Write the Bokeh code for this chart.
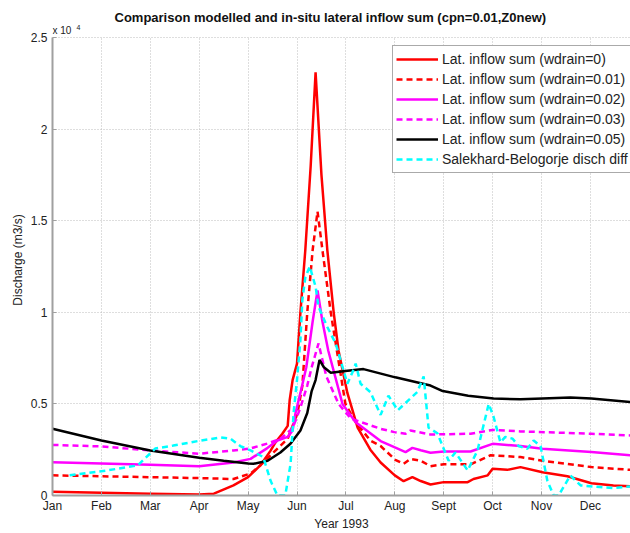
from bokeh.plotting import figure
from bokeh.models import (Range1d, FixedTicker, CustomJSTickFormatter, Label, Legend, LegendItem)
from bokeh.embed import file_html
from bokeh.resources import INLINE

# ---- data (x in months since 1 Jan 1993, values in 10^4 m3/s) ----
month_labels = ["Jan", "Feb", "Mar", "Apr", "May", "Jun", "Jul", "Aug", "Sept", "Oct", "Nov", "Dec"]
y_ticks = [0, 0.5, 1, 1.5, 2, 2.5]

w0_x = [0, 1, 2, 3, 3.3, 3.7, 4.0, 4.25, 4.46, 4.56, 4.7, 4.81, 4.85, 4.91, 5.0, 5.07, 5.17, 5.28, 5.38,
        5.5, 5.62, 5.75, 5.85, 6.03, 6.24, 6.5, 6.71, 7.0, 7.18, 7.36, 7.53, 7.73, 8.0, 8.49, 8.61, 8.9,
        9.0, 9.3, 9.57, 10.02, 10.53, 11.02, 11.47, 11.82]
w0_y = [0.02, 0.015, 0.01, 0.005, 0.01, 0.055, 0.10, 0.164, 0.245, 0.29, 0.337, 0.38, 0.52, 0.63, 0.72, 1.0,
        1.34, 1.8, 2.31, 1.75, 1.34, 1.0, 0.79, 0.56, 0.37, 0.25, 0.18, 0.11, 0.078, 0.10, 0.079, 0.06,
        0.073, 0.073, 0.09, 0.11, 0.146, 0.14, 0.155, 0.127, 0.105, 0.067, 0.055, 0.05]

w1_x = [0, 1, 2, 3, 3.7, 4.05, 4.25, 4.52, 4.81, 5.01, 5.11, 5.21, 5.32, 5.42, 5.52, 5.69, 5.99, 6.2, 6.5,
        6.71, 7.01, 7.18, 7.32, 7.53, 7.73, 8.0, 8.55, 8.96, 9.57, 10.02, 11.02, 11.82]
w1_y = [0.11, 0.105, 0.10, 0.095, 0.09, 0.12, 0.164, 0.235, 0.31, 0.45, 0.60, 1.0, 1.34, 1.55, 1.34, 1.0,
        0.5, 0.4, 0.3, 0.27, 0.195, 0.173, 0.20, 0.19, 0.16, 0.17, 0.17, 0.22, 0.21, 0.19, 0.155, 0.14]

w2_x = [0, 1, 2, 3, 3.7, 4.05, 4.4, 4.6, 4.81, 4.91, 4.97, 5.07, 5.19, 5.32, 5.42, 5.52, 5.64, 5.93, 6.2,
        6.71, 6.99, 7.22, 7.36, 7.53, 7.73, 8.0, 8.55, 9.0, 9.57, 10.02, 11.02, 11.82]
w2_y = [0.182, 0.175, 0.168, 0.16, 0.18, 0.20, 0.26, 0.30, 0.32, 0.355, 0.45, 0.56, 0.70, 0.95, 1.12, 0.95,
        0.79, 0.5, 0.4, 0.297, 0.264, 0.237, 0.26, 0.247, 0.233, 0.24, 0.24, 0.282, 0.27, 0.255, 0.237, 0.22]

w3_x = [0, 1, 2, 3, 3.7, 4.05, 4.4, 4.66, 4.91, 5.07, 5.21, 5.3, 5.44, 5.6, 5.85, 6.1, 6.71, 6.99, 7.22,
        7.32, 7.73, 8.55, 9.0, 9.57, 11.02, 11.82]
w3_y = [0.276, 0.268, 0.246, 0.228, 0.246, 0.257, 0.284, 0.31, 0.366, 0.48, 0.60, 0.70, 0.83, 0.65, 0.5,
        0.42, 0.364, 0.346, 0.337, 0.355, 0.333, 0.337, 0.358, 0.35, 0.337, 0.328]

w5_x = [0, 1, 2, 3, 3.5, 4.0, 4.11, 4.4, 4.66, 4.87, 5.07, 5.21, 5.3, 5.38, 5.46, 5.55, 5.69, 5.99, 6.36,
        7.01, 7.73, 7.98, 8.5, 9.02, 9.57, 10.02, 10.59, 11.02, 11.82]
w5_y = [0.364, 0.30, 0.246, 0.206, 0.19, 0.175, 0.173, 0.19, 0.235, 0.284, 0.355, 0.45, 0.57, 0.63, 0.74,
        0.70, 0.67, 0.68, 0.69, 0.645, 0.60, 0.57, 0.545, 0.53, 0.525, 0.53, 0.535, 0.53, 0.51]

obs_x = [0.35, 1.12, 1.74, 2.0, 2.1, 2.47, 3.03, 3.44, 3.64, 3.84, 4.05, 4.31, 4.46, 4.6, 4.76, 4.87, 4.93,
         5.0, 5.07, 5.11, 5.17, 5.26, 5.38, 5.44, 5.62, 5.79, 5.89, 6.03, 6.13, 6.2, 6.3, 6.5, 6.71, 6.87,
         7.06, 7.32, 7.46, 7.59, 7.69, 7.87, 8.1, 8.24, 8.49, 8.69, 8.92, 9.02, 9.16, 9.26, 9.41, 9.53,
         9.71, 9.84, 9.98, 10.12, 10.25, 10.35, 10.59, 10.8, 11.47, 11.82]
obs_y = [0.11, 0.137, 0.164, 0.23, 0.256, 0.273, 0.30, 0.317, 0.31, 0.27, 0.246, 0.21, 0.08, 0.0, 0.0,
         0.175, 0.45, 0.63, 0.85, 1.07, 1.19, 1.25, 1.14, 1.03, 0.92, 0.83, 0.74, 0.61, 0.67, 0.72, 0.61,
         0.565, 0.44, 0.545, 0.465, 0.53, 0.565, 0.65, 0.37, 0.34, 0.19, 0.235, 0.137, 0.245, 0.5, 0.43,
         0.29, 0.32, 0.31, 0.27, 0.255, 0.30, 0.27, 0.08, 0.0, 0.0, 0.11, 0.055, 0.04, 0.05]

series = [
    ("Lat. inflow sum (wdrain=0)", w0_x, w0_y, "#ff0000", "solid"),
    ("Lat. inflow sum (wdrain=0.01)", w1_x, w1_y, "#ff0000", "6 4"),
    ("Lat. inflow sum (wdrain=0.02)", w2_x, w2_y, "#ff00ff", "solid"),
    ("Lat. inflow sum (wdrain=0.03)", w3_x, w3_y, "#ff00ff", "6 4"),
    ("Lat. inflow sum (wdrain=0.05)", w5_x, w5_y, "#000000", "solid"),
    ("Salekhard-Belogorje disch diff", obs_x, obs_y, "#00ffff", "6 4"),
]

FONT = "Liberation Sans"
Y_TOP = 2.5
Y_HEADROOM = 0.071   # blank strip above the top tick that holds the "x 10^4" note

p = figure(width=630, height=533, x_range=Range1d(0, 11.82), y_range=Range1d(0, Y_TOP + Y_HEADROOM),
           output_backend="svg", toolbar_location=None,
           min_border_left=52, min_border_right=0, min_border_top=24, min_border_bottom=38,
           title="Comparison modelled and in-situ lateral inflow sum (cpn=0.01,Z0new)")
p.outline_line_color = None
p.background_fill_color = "white"
p.border_fill_color = "white"

p.title.text_font = FONT
p.title.text_font_size = "13px"
p.title.text_font_style = "bold"
p.title.text_color = "#111111"
p.title.align = "left"
p.title.offset = 62
p.title.standoff = 0

items = []
for name, xs, ys, col, dash in series:
    r = p.line(xs, ys, line_color=col, line_width=2.5, line_dash=dash)
    items.append(LegendItem(label=name, renderers=[r]))

# axes
p.xaxis.ticker = FixedTicker(ticks=list(range(len(month_labels))))
p.xaxis.formatter = CustomJSTickFormatter(args=dict(labels=month_labels),
                                          code="return labels[Math.round(tick)] || '';")
p.yaxis.ticker = FixedTicker(ticks=y_ticks)
p.yaxis.formatter = CustomJSTickFormatter(code="return String(tick);")
p.yaxis.bounds = (0, Y_TOP)
p.xaxis.axis_label = "Year 1993"
p.yaxis.axis_label = "Discharge (m3/s)"
for ax in (p.xaxis[0], p.yaxis[0]):
    ax.axis_line_color = "#a0a0a0"
    ax.axis_line_width = 2
    ax.major_tick_in = 4
    ax.major_tick_out = 0
    ax.major_tick_line_color = "#a0a0a0"
    ax.minor_tick_line_color = None
    ax.major_label_text_font = FONT
    ax.major_label_text_font_size = "12px"
    ax.major_label_text_color = "#222222"
    ax.axis_label_text_font = FONT
    ax.axis_label_text_font_size = "12px"
    ax.axis_label_text_font_style = "normal"
    ax.axis_label_text_color = "#222222"
p.xaxis.major_label_standoff = 3
p.xaxis.axis_label_standoff = 1
p.yaxis.major_label_standoff = 5
p.yaxis.axis_label_standoff = 3

for g in (p.xgrid[0], p.ygrid[0]):
    g.grid_line_color = "#bdbdbd"
    g.grid_line_dash = "1 2"
    g.grid_line_width = 1
try:
    p.xgrid[0].cross_bounds = (0, Y_TOP)
except Exception:
    pass

# exponent note
p.add_layout(Label(x=0, y=Y_TOP, y_offset=2, text="x 10", text_font=FONT, text_font_size="10px",
                   text_color="#222222", text_baseline="bottom"))
p.add_layout(Label(x=0, y=Y_TOP, x_offset=24, y_offset=8, text="4", text_font=FONT,
                   text_font_size="7px", text_color="#222222", text_baseline="bottom"))

legend = Legend(items=items, location=(340, 322))
legend.label_text_font = FONT
legend.label_text_font_size = "14px"
legend.label_text_color = "#222222"
legend.label_height = 20
legend.glyph_height = 14
legend.glyph_width = 42
legend.label_standoff = 4
legend.spacing = 0
legend.padding = 3
legend.margin = 0
legend.border_line_color = "#555555"
legend.border_line_width = 1
legend.background_fill_alpha = 1.0
p.add_layout(legend)

open("out.html", "w").write(file_html(p, INLINE))
